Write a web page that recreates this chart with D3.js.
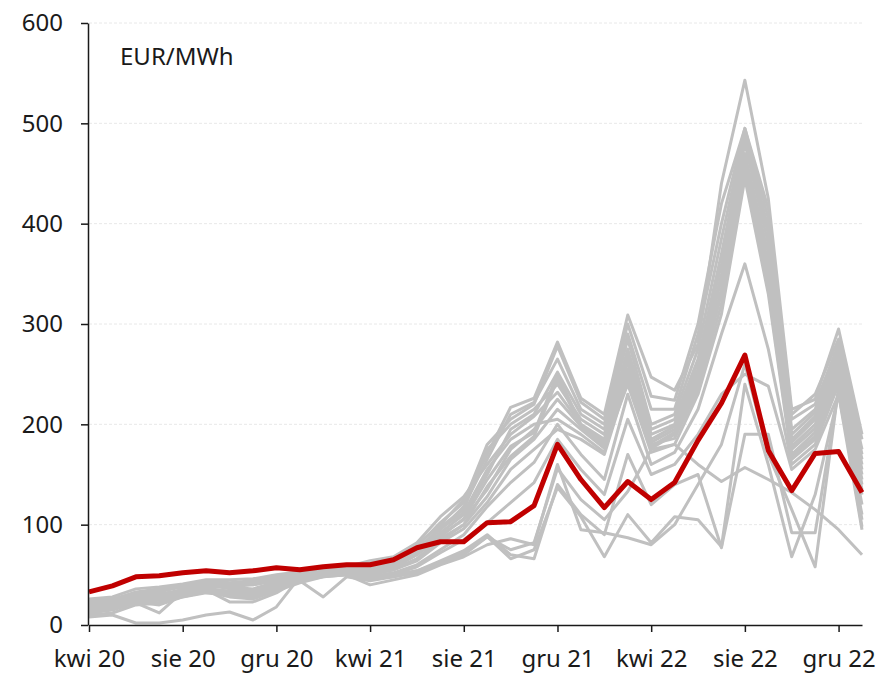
<!DOCTYPE html>
<html>
<head>
<meta charset="utf-8">
<script src="https://cdn.jsdelivr.net/npm/d3@7"></script>
<style>
  body { margin: 0; background: #fff; }
  svg text { font-family: "Noto Sans", "Open Sans", sans-serif; fill: #1a1a1a; }
</style>
</head>
<body>
<script>
// months: kwi 20 (index 0) ... sty 23 (index 33)
var monthCount = 34;
var tickIdx = [0, 4, 8, 12, 16, 20, 24, 28, 32];
var tickLabels = ["kwi 20", "sie 20", "gru 20", "kwi 21", "sie 21", "gru 21", "kwi 22", "sie 22", "gru 22"];
var yTicks = [0, 100, 200, 300, 400, 500, 600];
var unitLabel = "EUR/MWh";

// highlighted series (red)
var mainSeries = [33,39,48,49,52,54,52,54,57,55,58,60,60,65,77,83,83,102,103,119,180,145,117,143,125,142,184,221,269,174,134,171,173,132];

// other markets (grey)
var s01 = [24,26,32,35,40,44,42,40,46,52,56,58,62,66,80,100,125,170,217,226,282,226,210,309,247,234,280,440,543,425,215,225,295,190];
var s02 = [20,22,30,33,38,42,40,42,46,50,54,57,58,64,78,102,122,180,205,220,278,222,205,300,228,224,300,420,495,415,210,230,285,185];
var s03 = [22,24,32,36,40,43,42,44,48,52,55,57,60,62,75,95,118,165,210,222,265,215,200,290,215,215,290,400,495,405,205,220,280,175];
var s04 = [16,18,25,28,34,37,33,31,39,47,52,54,56,60,72,92,110,150,195,210,252,210,195,285,200,210,275,385,490,395,195,215,275,170];
var s05 = [20,22,30,31,35,40,38,36,43,49,53,56,58,62,74,98,115,175,200,215,240,205,190,275,195,205,265,370,485,390,190,212,270,165];
var s06 = [26,28,36,38,41,45,45,46,50,53,56,58,64,68,82,108,128,160,190,208,232,200,185,270,190,200,262,360,480,380,185,208,268,160];
var s07 = [12,15,22,25,30,34,32,33,40,45,50,53,52,57,70,90,105,135,175,195,225,198,180,262,185,198,255,350,470,370,182,205,262,155];
var s08 = [18,20,26,22,30,35,30,28,36,44,50,52,50,55,66,86,100,128,165,185,215,195,176,255,182,195,250,345,465,360,178,200,258,150];
var s09 = [22,25,33,36,40,43,40,42,46,50,54,56,58,62,75,96,112,155,185,200,205,190,172,250,178,192,245,335,460,350,175,196,255,145];
var s10 = [14,16,24,26,32,36,34,34,42,46,50,52,50,55,64,82,96,122,155,175,195,185,170,245,176,190,240,330,455,345,170,192,250,140];
var s11 = [20,24,30,28,36,40,36,35,42,48,52,55,54,58,70,88,106,145,178,192,250,200,182,265,180,186,235,320,450,335,168,188,245,135];
var s12 = [16,18,26,30,34,38,38,40,44,47,50,53,52,56,66,84,100,138,168,188,245,198,178,240,172,180,230,310,445,330,165,185,240,130];
var s13 = [15,18,23,20,28,33,28,26,34,42,48,50,48,52,60,75,90,118,142,162,200,170,145,230,160,172,215,290,360,275,160,180,240,120];
var s14 = [22,26,30,25,33,36,32,30,40,46,50,52,48,50,58,72,85,102,122,142,185,155,130,205,150,160,190,230,250,238,155,175,230,110];
var s15 = [10,12,20,22,28,32,30,30,38,44,48,50,46,48,54,64,74,90,70,66,140,110,90,170,120,140,150,77,190,190,92,92,234,105];
var s16 = [8,10,2,2,5,10,13,5,18,48,50,52,48,50,54,62,72,88,75,82,156,125,105,133,175,180,160,143,157,145,132,115,95,70];
var s17 = [20,22,28,25,32,35,30,28,36,44,28,48,44,48,52,62,70,88,66,75,137,108,68,110,82,108,105,78,240,160,68,130,230,95];
var s18 = [14,16,22,12,33,35,23,23,32,46,50,50,40,45,50,60,68,80,86,80,160,95,92,87,80,100,140,180,260,170,115,58,237,98];
var greySeries = [s01,s02,s03,s04,s05,s06,s07,s08,s09,s10,s11,s12,s13,s14,s15,s16,s17,s18];

var width = 879, height = 673;
var margin = {top: 23, right: 17, bottom: 48, left: 89};

var svg = d3.select("body").append("svg")
    .attr("width", width)
    .attr("height", height);

var x = d3.scaleLinear()
    .domain([0, monthCount - 1])
    .range([margin.left, width - margin.right]);

var y = d3.scaleLinear()
    .domain([0, 600])
    .range([height - margin.bottom, margin.top]);

// light dashed gridlines
svg.append("g")
    .selectAll("line")
    .data(yTicks.slice(1))
    .enter()
    .append("line")
    .attr("x1", x(0))
    .attr("x2", x(monthCount - 1))
    .attr("y1", function(d) { return y(d); })
    .attr("y2", function(d) { return y(d); })
    .attr("stroke", "#e8e8e8")
    .attr("stroke-width", 1)
    .attr("stroke-dasharray", "3,2");

var line = d3.line()
    .x(function(d, i) { return x(i); })
    .y(function(d) { return y(d); });

svg.append("g")
    .selectAll("path")
    .data(greySeries)
    .enter()
    .append("path")
    .attr("d", line)
    .attr("fill", "none")
    .attr("stroke", "#c0c0c0")
    .attr("stroke-width", 3)
    .attr("stroke-linejoin", "round");

svg.append("path")
    .attr("d", line(mainSeries))
    .attr("fill", "none")
    .attr("stroke", "#c00000")
    .attr("stroke-width", 5)
    .attr("stroke-linejoin", "round");

// y axis
var yAxis = svg.append("g")
    .attr("transform", "translate(" + (margin.left - 1) + ",0)")
    .call(d3.axisLeft(y).tickValues(yTicks).tickSize(7).tickPadding(18).tickSizeOuter(0));

// x axis
var xAxis = svg.append("g")
    .attr("transform", "translate(0," + y(0) + ")")
    .call(d3.axisBottom(x).tickValues(tickIdx).tickSize(7).tickPadding(21).tickSizeOuter(0)
        .tickFormat(function(d, i) { return tickLabels[i]; }));

svg.selectAll(".domain, .tick line")
    .attr("stroke", "#1a1a1a")
    .attr("stroke-width", 1.5);

svg.selectAll(".tick text")
    .attr("font-size", 24)
    .style("font-family", "'Noto Sans', sans-serif")
    .attr("fill", "#1a1a1a");

xAxis.selectAll(".tick text").attr("dy", "0.6em");

svg.append("text")
    .attr("x", 120)
    .attr("y", 65)
    .attr("font-size", 24)
    .text(unitLabel);
</script>
</body>
</html>
